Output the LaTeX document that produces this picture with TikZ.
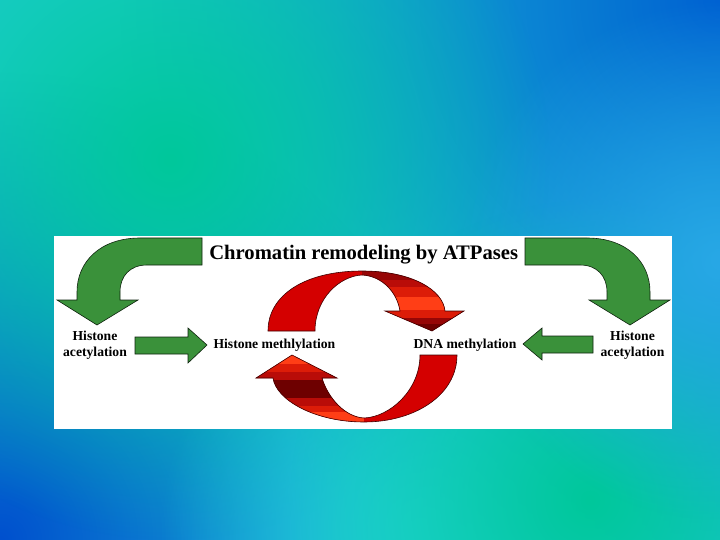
\documentclass[tikz,border=0pt]{standalone}
\usepackage{fontspec}
\setmainfont{Liberation Serif}
\usetikzlibrary{fadings}
\definecolor{bgcyan}{RGB}{34,206,214}
\definecolor{bgblue}{RGB}{0,98,210}
\definecolor{bgblue2}{RGB}{0,80,206}
\definecolor{bggreen}{RGB}{0,200,155}
\definecolor{bglight}{RGB}{40,168,230}
\definecolor{bgcyan2}{RGB}{36,212,218}
\definecolor{arrowgreen}{RGB}{58,145,58}
\definecolor{redmain}{RGB}{212,0,0}
\definecolor{rA}{RGB}{110,0,0}
\definecolor{rB}{RGB}{150,6,6}
\definecolor{rC}{RGB}{185,12,8}
\definecolor{rD}{RGB}{220,28,8}
\definecolor{rE}{RGB}{255,62,22}
\tikzfading[name=softdot, inner color=transparent!0, outer color=transparent!100]
\newcommand\UpperRibbon{(268,331) .. controls (268,295) and (305,271) .. (362,271) .. controls (412,271) and (443,290) .. (445,311) -- (464,311) -- (432,331) -- (385,311) -- (400,311) .. controls (397,292) and (382,276) .. (362,275) .. controls (340,276) and (315,298) .. (315,331) -- cycle}
\newcommand\LowerRibbon{(457,355) .. controls (457,395) and (415,422) .. (364,422) .. controls (315,422) and (276,400) .. (273,378) -- (256,378) -- (292,355) -- (337,378) -- (322,378) .. controls (328,398) and (345,417) .. (364,418) .. controls (390,417) and (420,390) .. (420,355) -- cycle}
\begin{document}
\begin{tikzpicture}[x=1bp,y=-1bp,
  garrow/.style={fill=arrowgreen, draw=black!75!arrowgreen, line width=0.6bp, line join=miter},
  rarrow/.style={draw=black!70!redmain, line width=0.6bp},
  lbl/.style={font=\bfseries\fontsize{13.7}{16}\selectfont, inner sep=0pt, align=center, text=black},
  ttl/.style={font=\bfseries\fontsize{20.7}{24}\selectfont, inner sep=0pt, text=black}]
\useasboundingbox (0,0) rectangle (720,540);
% background
\fill[bgcyan] (0,0) rectangle (720,540);
\begin{scope}
\clip (0,0) rectangle (720,540);
\fill[bgblue, path fading=softdot] (720,0) circle (600bp);
\fill[bgblue2, path fading=softdot] (0,540) circle (470bp);
\fill[bggreen, path fading=softdot] (170,160) circle (380bp);
\fill[bgcyan2, path fading=softdot] (420,530) circle (260bp);
\fill[bggreen, path fading=softdot] (590,500) circle (300bp);
\fill[bglight, path fading=softdot] (720,260) circle (260bp);
\end{scope}
% white panel
\fill[white] (54,236) rectangle (672,429);
% title
\node[ttl, anchor=base] (title) at (363.7,260) {Chromatin remodeling by ATPases};
% curved green arrows
\draw[garrow] (202,238) -- (140,238) .. controls (100,238) and (77,262) .. (77,292) -- (77,300) -- (57,300) -- (97,325) -- (138,300) -- (120,300) -- (120,292) .. controls (120,276) and (130,265) .. (147,265) -- (202,265) -- cycle;
\draw[garrow] (525,238) -- (587,238) .. controls (627,238) and (650,262) .. (650,292) -- (650,300) -- (670,300) -- (630,325) -- (589,300) -- (607,300) -- (607,292) .. controls (607,276) and (597,265) .. (580,265) -- (525,265) -- cycle;
% labels
\node[lbl, anchor=base] (hacL) at (95,356) {Histone\\acetylation};
\node[lbl, anchor=base] (hacR) at (632.5,356) {Histone\\acetylation};
\node[lbl, anchor=base] (hmeth) at (274.4,348) {Histone methlylation};
\node[lbl, anchor=base] (dnameth) at (465,348) {DNA methylation};
% straight green arrows
\draw[garrow] (135,337) -- (188,337) -- (188,328) -- (207,345) -- (188,363) -- (188,354) -- (135,354) -- cycle;
\draw[garrow] (593,336) -- (542,336) -- (542,328) -- (523,344) -- (542,360) -- (542,353) -- (593,353) -- cycle;
% red ribbon arrows
\fill[redmain] \UpperRibbon;
\begin{scope}
\clip \UpperRibbon;
\fill[rB] (362,266) rectangle (472,280);
\fill[rC] (362,280) rectangle (472,287);
\fill[rD] (362,287) rectangle (472,297);
\fill[rE] (362,297) rectangle (472,310);
\fill[rD] (362,310) rectangle (472,318);
\fill[rB] (362,318) rectangle (472,324);
\fill[rA] (362,324) rectangle (472,334);
\end{scope}
\draw[rarrow] \UpperRibbon;
\fill[redmain] \LowerRibbon;
\begin{scope}
\clip \LowerRibbon;
\fill[rE] (250,352) rectangle (364,364);
\fill[rD] (250,364) rectangle (364,372);
\fill[rC] (250,372) rectangle (364,380);
\fill[rA] (250,380) rectangle (364,398);
\fill[rC] (250,398) rectangle (364,406);
\fill[rD] (250,406) rectangle (364,412);
\fill[rE] (250,412) rectangle (364,426);
\end{scope}
\draw[rarrow] \LowerRibbon;
\end{tikzpicture}
\end{document}
